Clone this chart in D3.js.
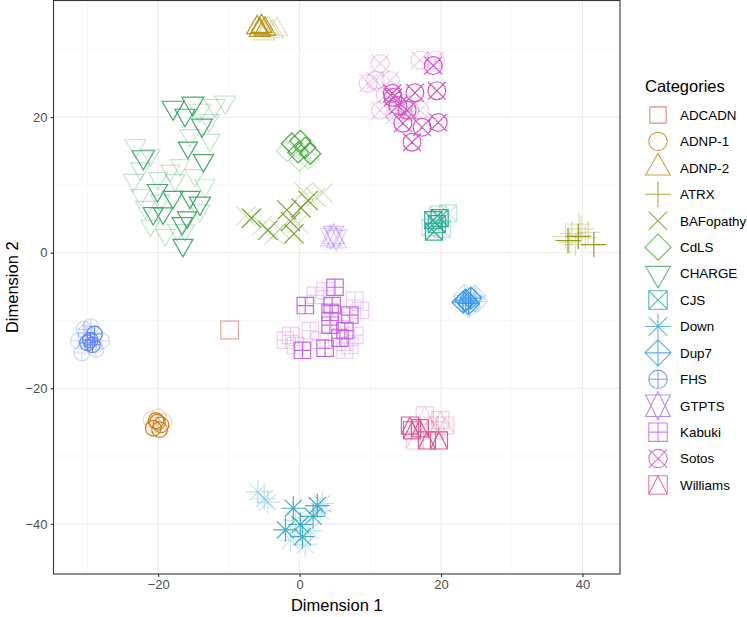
<!DOCTYPE html>
<html lang="en">
<head>
<meta charset="UTF-8">
<title>Categories scatter</title>
<script src="https://d3js.org/d3.v7.min.js"></script>
<style>
  body { margin: 0; background: #fff; }
  svg { display: block; font-family: "Liberation Sans", Arial, sans-serif; }
</style>
</head>
<body>
<svg id="chart" width="747" height="617"></svg>
<script>
// categories (legend order) and their colours
const categories = ["ADCADN", "ADNP-1", "ADNP-2", "ATRX", "BAFopathy", "CdLS", "CHARGE", "CJS",
                    "Down", "Dup7", "FHS", "GTPTS", "Kabuki", "Sotos", "Williams"];
const colours = ["#E06C64", "#CC7A12", "#B38F0F", "#949412", "#66A01E", "#45A83A", "#3BA862", "#2AA896",
                 "#3AA6C8", "#3A95E6", "#5C82F5", "#A070F0", "#C45DE6", "#D24EC4", "#DA5590"];

const xTicks = [-20, 0, 20, 40];
const yTicks = [-40, -20, 0, 20];
const xMinor = [-30, -10, 10, 30];
const yMinor = [-30, -10, 10, 30];

// each point: [dim1, dim2, size, weight]  (weight 1 = strong, 0 = faint)
const ADCADN = [[-9.9, -11.4, 5.6, 0.5]];
const ADNP1 = [
  [-21.0, -24.6, 4.4, 0], [-20.0, -24.2, 4.4, 0], [-19.2, -24.9, 4.4, 0], [-20.6, -25.4, 4.4, 0],
  [-20.3, -24.8, 4.4, 1], [-19.6, -25.4, 4.4, 1], [-20.7, -25.9, 4.4, 1], [-19.8, -26.1, 4.4, 1], [-20.1, -25.0, 4.4, 1]
];
const ADNP2 = [
  [-4.4, 33.1, 4.4, 0], [-3.8, 32.6, 4.4, 0], [-3.2, 32.9, 4.4, 0], [-5.0, 32.3, 4.4, 0],
  [-6.0, 33.2, 4.4, 1], [-5.4, 33.4, 4.4, 1], [-4.9, 33.0, 4.4, 1], [-5.6, 32.8, 4.4, 1]
];
const ATRX = [
  [38.5, 2.8, 4.8, 0], [39.8, 3.5, 5.2, 0], [40.4, 2.2, 4.8, 0], [37.6, 2.4, 5.2, 0],
  [39.0, 1.2, 4.6, 0], [40.8, 3.0, 4.6, 0], [38.2, 1.6, 4.6, 0], [39.5, 4.2, 4.6, 0],
  [37.95, 1.8, 5.0, 1], [39.4, 2.4, 5.0, 1], [41.6, 1.2, 5.0, 1]
];
const BAFopathy = [
  [-5.3, 4.0, 5.4, 0], [-3.6, 2.6, 5.4, 0], [-2.8, 3.5, 5.4, 0], [2.3, 8.2, 5.4, 0],
  [3.3, 8.8, 5.4, 0], [0.6, 9.0, 5.4, 0], [-7.6, 5.4, 5.4, 0], [-0.2, 4.3, 5.4, 0],
  [-6.8, 5.1, 5.4, 1], [-4.5, 3.3, 5.4, 1], [-1.8, 6.3, 5.4, 1], [-1.3, 4.6, 5.4, 1],
  [1.2, 7.7, 5.4, 1], [0.2, 6.6, 5.4, 1], [-0.8, 2.8, 5.4, 1]
];
const CdLS = [
  [-1.8, 15.0, 4.2, 0], [0.0, 13.6, 4.2, 0], [1.2, 13.9, 4.2, 0], [-0.6, 15.6, 4.2, 0],
  [-1.1, 16.1, 4.2, 1], [0.8, 15.5, 4.2, 1], [1.5, 14.6, 4.2, 1], [-0.2, 14.8, 4.2, 1], [0.1, 16.5, 4.2, 1]
];
const CHARGE = [
  [-23.2, 15.8, 4.4, 0], [-21.1, 14.4, 4.0, 0], [-23.5, 10.7, 4.2, 0], [-22.5, 8.5, 4.0, 0],
  [-21.8, 6.7, 4.2, 0], [-21.1, 4.0, 4.0, 0], [-19.0, 2.6, 4.0, 0], [-18.3, 12.1, 4.0, 0],
  [-16.9, 12.9, 4.0, 0], [-14.1, 21.0, 4.4, 0], [-12.0, 21.7, 4.4, 0], [-10.5, 22.2, 4.4, 0],
  [-12.7, 16.6, 4.2, 0], [-17.6, 10.7, 4.0, 0], [-14.8, 11.4, 4.2, 0], [-14.1, 6.2, 4.2, 0],
  [-19.7, 7.7, 4.0, 0], [-16.2, 3.3, 4.0, 0], [-17.3, 3.3, 4.0, 0], [-22.5, 12.4, 4.2, 0],
  [-15.5, 17.3, 4.2, 0], [-13.4, 9.9, 4.2, 0], [-12.8, 19.5, 4.2, 0], [-20.0, 11.0, 4.0, 0],
  [-17.9, 21.4, 4.6, 1], [-15.1, 22.0, 4.6, 1], [-13.8, 18.8, 4.4, 1], [-16.2, 20.3, 4.2, 1],
  [-22.1, 14.1, 4.6, 1], [-15.8, 15.5, 4.0, 1], [-13.6, 13.6, 4.2, 1], [-20.1, 9.2, 4.2, 1],
  [-17.9, 8.2, 4.2, 1], [-15.5, 8.2, 4.2, 1], [-14.1, 7.3, 4.4, 1], [-20.7, 5.8, 4.2, 1],
  [-19.3, 5.8, 4.0, 1], [-16.6, 4.3, 4.2, 1], [-16.5, 1.1, 4.2, 1], [-15.9, 5.2, 4.0, 1]
];
const CJS = [
  [21.0, 5.8, 4.8, 0], [18.5, 3.7, 4.8, 0], [20.1, 3.5, 4.8, 0], [19.6, 5.6, 4.8, 0],
  [18.9, 4.8, 4.8, 1], [19.0, 3.1, 4.8, 1], [19.8, 5.1, 4.8, 1], [19.4, 4.2, 4.8, 1]
];
const Down = [
  [-5.9, -35.3, 4.8, 0], [-5.0, -36.3, 4.8, 0], [-4.5, -36.8, 4.8, 0], [-0.6, -39.5, 4.8, 0],
  [1.5, -41.0, 4.8, 0], [2.9, -38.1, 4.8, 0], [-1.3, -42.4, 4.8, 0], [0.8, -43.1, 4.8, 0], [3.2, -37.0, 4.8, 0],
  [-0.9, -37.7, 4.8, 1], [2.5, -37.3, 4.8, 1], [1.9, -38.9, 4.8, 1], [-2.0, -40.9, 4.8, 1],
  [0.4, -41.9, 4.8, 1], [0.1, -40.1, 4.8, 1]
];
const Dup7 = [
  [24.8, -6.4, 4.4, 0], [24.0, -7.9, 4.4, 0], [23.3, -6.3, 4.4, 0], [25.0, -7.2, 4.4, 0],
  [23.5, -7.0, 4.4, 1], [24.2, -6.7, 4.4, 1], [23.1, -7.3, 4.4, 1], [23.9, -7.5, 4.4, 1]
];
const FHS = [
  [-30.5, -11.3, 4.4, 0], [-28.0, -13.0, 4.4, 0], [-31.3, -13.0, 4.4, 0], [-30.8, -14.8, 4.4, 0],
  [-28.8, -14.3, 4.4, 0], [-30.2, -11.8, 4.4, 0], [-29.5, -10.9, 4.4, 0],
  [-29.6, -12.9, 4.4, 1], [-29.0, -12.0, 4.4, 1], [-30.0, -13.3, 4.4, 1], [-29.3, -13.6, 4.4, 1]
];
const GTPTS = [[4.4, 2.3, 4.2, 0.1], [5.2, 2.0, 4.2, 0.1], [4.8, 2.6, 4.2, 0.2]];
const Kabuki = [
  [-1.3, -12.2, 4.6, 0], [-2.0, -12.9, 4.6, 0], [-0.6, -13.7, 4.6, 0], [2.9, -12.9, 4.6, 0],
  [7.8, -7.0, 4.6, 0], [8.6, -8.5, 4.6, 0], [6.4, -14.4, 4.6, 0], [7.1, -13.7, 4.6, 0],
  [2.2, -6.3, 4.6, 0], [3.6, -5.6, 4.6, 0], [5.7, -10.0, 4.6, 0], [1.5, -11.5, 4.6, 0], [7.8, -12.2, 4.6, 0],
  [0.8, -7.8, 4.6, 1], [5.0, -5.1, 4.6, 1], [4.6, -7.8, 4.6, 1], [7.1, -9.2, 4.6, 1],
  [4.3, -10.7, 4.6, 1], [6.4, -11.5, 4.6, 1], [3.6, -14.1, 4.6, 1], [0.4, -14.4, 4.6, 1],
  [5.7, -12.6, 4.6, 1], [4.3, -8.8, 4.6, 1]
];
const Sotos = [
  [11.4, 27.9, 5.0, 0], [9.7, 25.0, 5.0, 0], [10.7, 25.4, 5.0, 0], [12.1, 23.2, 5.0, 0],
  [11.4, 21.0, 5.0, 0], [13.5, 20.3, 5.0, 0], [17.0, 28.4, 5.0, 0], [19.2, 28.4, 5.0, 0],
  [15.6, 21.0, 5.0, 0], [17.0, 21.0, 5.0, 0], [12.8, 25.4, 5.0, 0], [14.8, 22.0, 5.0, 0],
  [18.9, 27.6, 5.0, 1], [19.4, 23.9, 5.0, 1], [13.2, 22.9, 5.0, 1], [13.9, 21.7, 5.0, 1],
  [16.3, 23.6, 5.0, 1], [14.6, 19.1, 5.0, 1], [17.3, 18.5, 5.0, 1], [19.6, 19.2, 5.0, 1],
  [15.9, 16.3, 5.0, 1], [13.1, 23.5, 5.0, 1], [15.2, 21.0, 5.0, 1]
];
const Williams = [
  [17.7, -24.0, 4.8, 0], [19.9, -24.7, 4.8, 0], [18.4, -25.5, 4.8, 0], [16.3, -27.7, 4.8, 0],
  [19.2, -26.2, 4.8, 0], [20.6, -25.5, 4.8, 0],
  [15.9, -26.2, 4.8, 1], [18.0, -27.7, 4.8, 1], [19.7, -27.7, 4.8, 1], [15.6, -25.5, 4.8, 1], [17.0, -25.9, 4.8, 1]
];
const seriesData = [ADCADN, ADNP1, ADNP2, ATRX, BAFopathy, CdLS, CHARGE, CJS,
                    Down, Dup7, FHS, GTPTS, Kabuki, Sotos, Williams];

const svg = d3.select("#chart");
const panel = {left: 53.5, right: 620, top: 0.5, bottom: 574};

const x = d3.scaleLinear().domain([-34.8, 45.3]).range([panel.left, panel.right]);
const y = d3.scaleLinear().domain([-47.4, 37.2]).range([panel.bottom, panel.top]);
const colour = d3.scaleOrdinal().domain(categories).range(colours);
const shapeOf = d3.scaleOrdinal().domain(categories).range(d3.range(15));
const radius = d3.scaleLinear().domain([0, 1]).range([0, 1.78]);  // size -> R in px
const alpha = d3.scaleLinear().domain([0, 1]).range([0.3, 0.95]);

// R's pch glyphs 0..14
function shapePath(k, R) {
  const p = d3.path();
  const S2 = Math.SQRT2, T0 = 1.5551203, T1 = 1.3467737, T2 = 0.7775602;
  const circle = r => { p.moveTo(r, 0); p.arc(0, 0, r, 0, 2 * Math.PI); };
  const seg = (a, b, c, d) => { p.moveTo(a, b); p.lineTo(c, d); };
  const square = h => p.rect(-h, -h, 2 * h, 2 * h);
  const diamond = h => { p.moveTo(0, -h); p.lineTo(h, 0); p.lineTo(0, h); p.lineTo(-h, 0); p.closePath(); };
  const plus = h => { seg(-h, 0, h, 0); seg(0, -h, 0, h); };
  const cross = h => { seg(-h, -h, h, h); seg(-h, h, h, -h); };
  const tri = (r, yc, xc, dir) => { p.moveTo(0, -dir * r); p.lineTo(xc, dir * yc); p.lineTo(-xc, dir * yc); p.closePath(); };
  switch (k) {
    case 0: square(R * 0.8862); break;
    case 1: circle(R); break;
    case 2: tri(T0 * R, T2 * R, T1 * R, 1); break;
    case 3: plus(S2 * R); break;
    case 4: cross(R); break;
    case 5: diamond(S2 * R); break;
    case 6: tri(T0 * R, T2 * R, T1 * R, -1); break;
    case 7: square(R); cross(R); break;
    case 8: cross(R); plus(S2 * R); break;
    case 9: diamond(S2 * R); plus(S2 * R); break;
    case 10: circle(R); plus(R); break;
    case 11: {
      const yc = 0.5 * (T2 + T0) * R;
      tri(T0 * R, yc, T1 * R, 1); tri(T0 * R, yc, T1 * R, -1); break;
    }
    case 12: square(R); plus(R); break;
    case 13: circle(R); cross(R); break;
    case 14: square(R); p.moveTo(-R, R); p.lineTo(0, -R); p.lineTo(R, R); break;
  }
  return p.toString();
}

// panel background + grid
svg.append("rect").attr("x", panel.left).attr("y", panel.top)
  .attr("width", panel.right - panel.left).attr("height", panel.bottom - panel.top).attr("fill", "#fff");

const grid = svg.append("g");
grid.selectAll(".xmin").data(xMinor).join("line")
  .attr("x1", d => x(d)).attr("x2", d => x(d)).attr("y1", panel.top).attr("y2", panel.bottom)
  .attr("stroke", "#f2f2f2").attr("stroke-width", 0.6);
grid.selectAll(".ymin").data(yMinor).join("line")
  .attr("y1", d => y(d)).attr("y2", d => y(d)).attr("x1", panel.left).attr("x2", panel.right)
  .attr("stroke", "#f2f2f2").attr("stroke-width", 0.6);
grid.selectAll(".xmaj").data(xTicks).join("line")
  .attr("x1", d => x(d)).attr("x2", d => x(d)).attr("y1", panel.top).attr("y2", panel.bottom)
  .attr("stroke", "#ebebeb").attr("stroke-width", 1.1);
grid.selectAll(".ymaj").data(yTicks).join("line")
  .attr("y1", d => y(d)).attr("y2", d => y(d)).attr("x1", panel.left).attr("x2", panel.right)
  .attr("stroke", "#ebebeb").attr("stroke-width", 1.1);

// points, faint ones first
const allPts = [];
seriesData.forEach((arr, i) => arr.forEach(d =>
  allPts.push({cat: categories[i], x: d[0], y: d[1], s: d[2], w: d[3]})));
allPts.sort((a, b) => a.w - b.w);

svg.append("g").selectAll("path").data(allPts).join("path")
  .attr("transform", d => `translate(${x(d.x)},${y(d.y)})`)
  .attr("d", d => shapePath(shapeOf(d.cat), radius(d.s)))
  .attr("fill", "none")
  .attr("stroke", d => colour(d.cat))
  .attr("stroke-opacity", d => alpha(d.w))
  .attr("stroke-width", 1.2);

// panel border
svg.append("rect").attr("x", panel.left).attr("y", panel.top)
  .attr("width", panel.right - panel.left).attr("height", panel.bottom - panel.top)
  .attr("fill", "none").attr("stroke", "#333").attr("stroke-width", 1.1);

// axes
const fmt = d => d < 0 ? "\u2212" + Math.abs(d) : d;
const xAxis = svg.append("g").attr("transform", `translate(0,${panel.bottom})`)
  .call(d3.axisBottom(x).tickValues(xTicks).tickSize(3).tickPadding(3).tickFormat(fmt));
const yAxis = svg.append("g").attr("transform", `translate(${panel.left},0)`)
  .call(d3.axisLeft(y).tickValues(yTicks).tickSize(3).tickPadding(3).tickFormat(fmt));
[xAxis, yAxis].forEach(a => {
  a.select(".domain").remove();
  a.selectAll(".tick line").attr("stroke", "#333").attr("stroke-width", 1.1);
  a.selectAll(".tick text").attr("fill", "#4d4d4d").style("font-size", "13px")
    .style("font-family", "'Liberation Sans', Arial, sans-serif");
});

svg.append("text").attr("x", (panel.left + panel.right) / 2).attr("y", 611)
  .attr("text-anchor", "middle").style("font-size", "16.5px").attr("fill", "#000").text("Dimension 1");
svg.append("text").attr("transform", `translate(18,${(panel.top + panel.bottom) / 2}) rotate(-90)`)
  .attr("text-anchor", "middle").style("font-size", "16.5px").attr("fill", "#000").text("Dimension 2");

// legend
const legend = svg.append("g");
legend.append("text").attr("x", 645).attr("y", 92).style("font-size", "16.5px").attr("fill", "#000").text("Categories");
const keyY = d3.scalePoint().domain(categories).range([115, 485]);
const item = legend.selectAll(".key").data(categories).join("g")
  .attr("transform", d => `translate(658,${keyY(d)})`);
item.append("path")
  .attr("d", d => shapePath(shapeOf(d), 9.2))
  .attr("fill", "none").attr("stroke", d => colour(d)).attr("stroke-opacity", 0.8).attr("stroke-width", 1.1);
item.append("text").attr("x", 22).attr("dy", "0.36em").style("font-size", "13.4px").attr("fill", "#000").text(d => d);
</script>
</body>
</html>
